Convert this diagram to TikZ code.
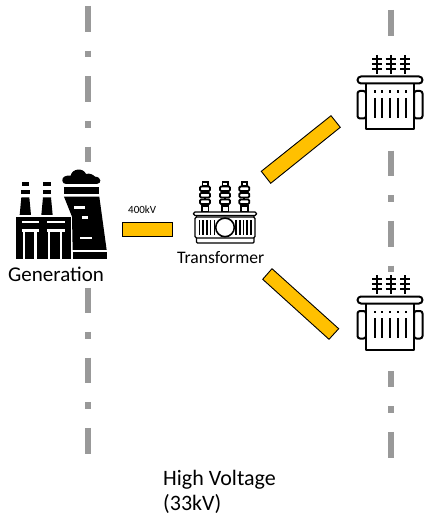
\documentclass[tikz,border=0pt]{standalone}
\usepackage{fontspec}
\setmainfont{Carlito}
\definecolor{feed}{HTML}{FFC000}
\definecolor{rail}{HTML}{999999}
\tikzset{
  feeder/.style={draw=black,line width=0.9pt,fill=feed,line join=miter},
  railline/.style={draw=rail,line width=6.4pt,dash pattern=on 25.7pt off 19pt on 6.6pt off 19pt},
  cover/.style={fill=white,draw=none},
  ink/.style={draw=black,line width=2pt,fill=white,line join=round},
  wire/.style={draw=black,line width=2.2pt,line cap=butt},
  thin ink/.style={draw=black,line width=1.4pt,fill=white},
  gap/.style={fill=white,draw=none},
  label/.style={inner sep=0pt,text=black,anchor=base west},
  bigtrans/.pic={
    \foreach \px in {37.3,50.7,65.3}{
      \draw[wire] (\px,15) -- (\px,34);
      \foreach \py in {19,24,29}{\draw[wire] (\px-5,\py) -- (\px+5,\py);}
    }
    \draw[ink,rounded corners=2.5pt] (17.5,51) -- (26,51) -- (26,78.5) -- (17.5,78.5) -- cycle;
    \draw[ink,rounded corners=2.5pt] (82.5,51) -- (74,51) -- (74,78.5) -- (82.5,78.5) -- cycle;
    \draw[ink] (26,43) rectangle (74,89.5);
    \draw[ink,rounded corners=3.5pt] (17.5,36.5) rectangle (82.5,43.5);
    \foreach \px in {35,41.7,50,58.3,65.7}{
      \fill[black] (\px-1,50.5) rectangle (\px+1,53);
      \draw[wire] (\px,58) -- (\px,78);
    }
  },
  insul/.pic={
    \draw[thin ink,line width=1.8pt] (-2.6,0.8) rectangle (2.6,5);
    \draw[black,line width=1.8pt] (0,5) -- (0,26);
    \foreach \dy in {5.5,12,18.5}{
      \draw[thin ink,line width=1.8pt,rounded corners=1.2pt] (-5,\dy) rectangle (5,\dy+4.6);
    }
    \draw[thin ink,line width=1.8pt] (-3.4,25) rectangle (3.4,30.5);
  }
}
\begin{document}
\begin{tikzpicture}[x=1pt,y=-1pt]
\useasboundingbox (0,0) rectangle (424,521);
\fill[white] (0,0) rectangle (424,521);
% dash-dot rails
\coordinate (railAtop) at (88.2,6);
\coordinate (railAbot) at (88.2,455);
\coordinate (railBtop) at (390.7,10);
\coordinate (railBbot) at (390.7,459);
\draw[railline] (railAtop) -- (railAbot);
\draw[railline] (railBtop) -- (railBbot);
\fill[cover] (0,162.5) rectangle (112,288);
\fill[cover] (350,37) rectangle (424,150);
\fill[cover] (350,272.5) rectangle (424,371);
% factory
\begin{scope}[shift={(0,160)},x=0.3333pt,y=-0.3333pt]
  \foreach \cx in {76,141}{
    \fill[black] (\cx-11,67) rectangle (\cx+11,78);
    \fill[black] (\cx-13,90) rectangle (\cx+13,102);
    \fill[black] (\cx-12,112) -- (\cx+12,112) -- (\cx+17,165) -- (\cx-17,165) -- cycle;
  }
  \fill[black] (48,172) rectangle (212,297);
  \foreach \wx in {65,142}{
    \fill[gap] (\wx,183) rectangle (\wx+53,190);
    \fill[gap] (\wx,208) rectangle (\wx+53,216);
  }
  \fill[gap] (70,216) rectangle (75,297);
  \fill[gap] (102,216) rectangle (110,297);
  \fill[gap] (143,216) rectangle (149,297);
  \fill[gap] (180,216) rectangle (187,297);
  % tower
  \fill[black] (187,62) .. controls (185,50) and (200,45) .. (212,47)
     .. controls (216,25) and (250,22) .. (258,42)
     .. controls (270,38) and (280,45) .. (285,50)
     .. controls (305,50) and (306,72) .. (290,72) -- (198,72)
     .. controls (192,72) and (187,68) .. (187,62) -- cycle;
  \fill[black] (192,82) rectangle (298,103);
  \fill[black] (192,110) -- (298,110) -- (320,270) -- (218,270) -- (216,170) -- cycle;
  \fill[black] (220,277) rectangle (320,297);
  \fill[gap] (222,139) rectangle (255,146);
  \fill[gap] (245,169) rectangle (265,176);
  \fill[gap] (240,230) rectangle (275,237);
\end{scope}
% central transformer
\foreach \ix in {205,225,244.3}{\pic at (\ix,181) {insul};}
\draw[thin ink,rounded corners=1pt] (196.5,213) rectangle (254,243);
\draw[thin ink,rounded corners=1.5pt] (193.5,212) rectangle (256.5,215.5);
\draw[thin ink,rounded corners=1.5pt] (195,217) rectangle (255,238);
\foreach \lx in {199.5,203.2,206.9,210.6,214.3,236,239.7,243.4,247.1,250.8}{
  \draw[black,line width=1.6pt] (\lx,220) -- (\lx,235);
}
\draw[thin ink,line width=1.6pt] (225,227.4) circle (9.3);
% distribution transformers
\pic at (340,40) {bigtrans};
\pic at (340,260) {bigtrans};
% feeders
\draw[feeder] (122,222.3) rectangle (172.7,236.3);
\draw[feeder] (331,115.7) -- (340.3,127.3) -- (270.7,183.3) -- (261.3,171.3) -- cycle;
\draw[feeder] (272,268.7) -- (262.7,279.3) -- (329,339.3) -- (338.7,328.7) -- cycle;
% labels
\node[label,font=\fontsize{21}{24}\selectfont] (gen) at (8,281) {Generation};
\node[label,font=\fontsize{11}{13}\selectfont] (kv) at (128,214) {400kV};
\node[label,font=\fontsize{17.6}{20}\selectfont] (tr) at (177,263) {Transformer};
\node[label,font=\fontsize{22}{26}\selectfont] (hv) at (163,485) {High Voltage};
\node[label,font=\fontsize{22}{26}\selectfont] (hvb) at (163,510) {(33kV)};
\end{tikzpicture}
\end{document}
